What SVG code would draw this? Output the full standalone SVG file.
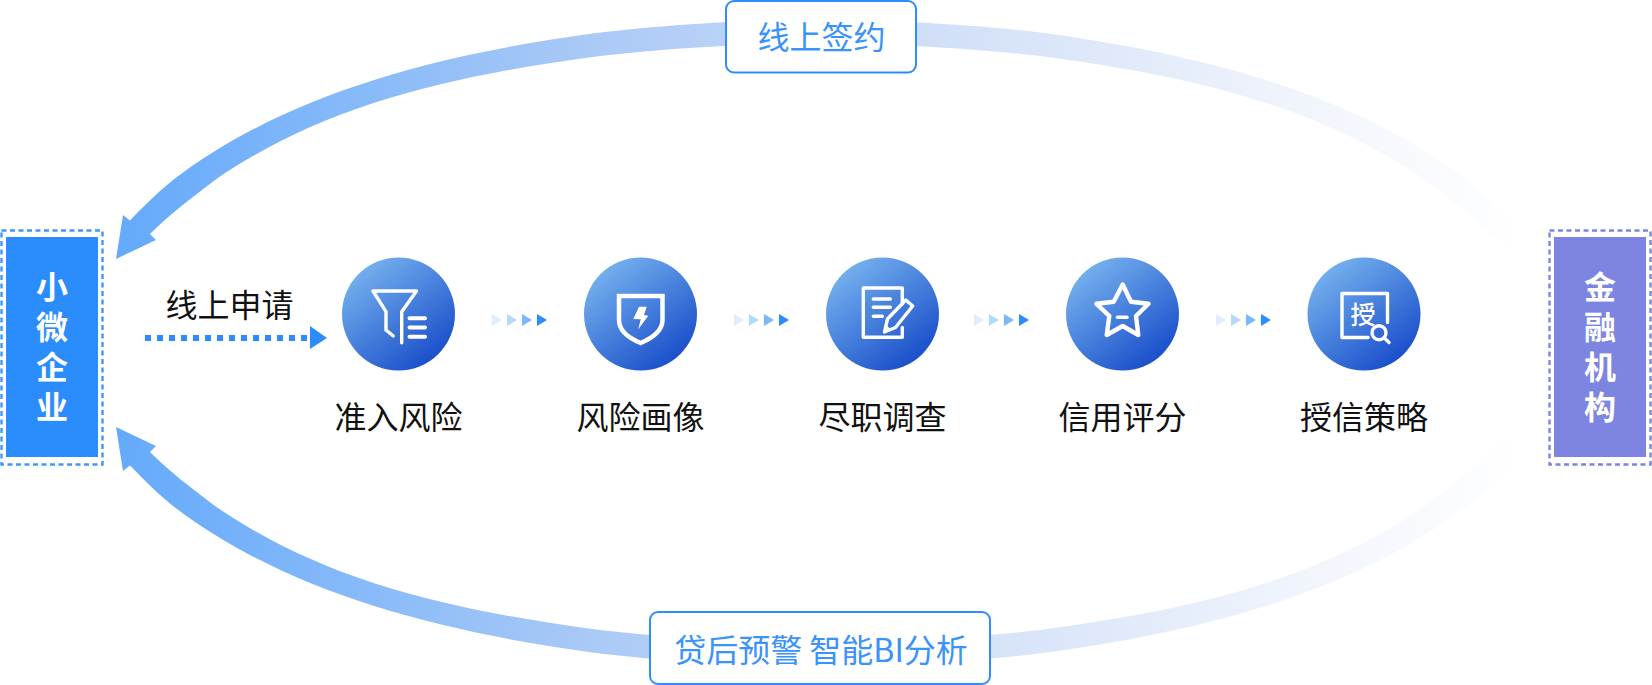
<svg xmlns="http://www.w3.org/2000/svg" width="1652" height="685" viewBox="0 0 1652 685">
<style>
text{font-family:"Noto Sans CJK SC","Noto Sans",sans-serif;font-size:32px}
.lbl{fill:#111;text-anchor:middle}
.blue{fill:#3a92fb;text-anchor:middle}
.side{fill:#fff;font-weight:700;writing-mode:vertical-rl;letter-spacing:8px}
.ic{fill:none;stroke:#fff;stroke-width:3.4;stroke-linecap:round;stroke-linejoin:round}
.box{fill:#fff;stroke:#2f8dfb;stroke-width:2}
.t1{fill:#e0eefe}.t2{fill:#b7d8fd}.t3{fill:#7ab8fc}.t4{fill:#2b8cfb}
</style>
<defs>
<linearGradient id="arc" gradientUnits="userSpaceOnUse" x1="116" y1="0" x2="1520" y2="0">
<stop offset="0" stop-color="#64aafb"/>
<stop offset="0.06" stop-color="#70affa"/>
<stop offset="0.345" stop-color="#abcaf6"/>
<stop offset="0.57" stop-color="#cfdef8"/>
<stop offset="0.84" stop-color="#f0f4fc"/>
<stop offset="1" stop-color="#ffffff"/>
</linearGradient>
<linearGradient id="disc" x1="0.15" y1="0.1" x2="0.8" y2="0.95">
<stop offset="0" stop-color="#75b1ee"/>
<stop offset="1" stop-color="#174cc9"/>
</linearGradient>
<path id="band" d="M116 259L123 215L130 220.4C143 207 158 192 173 180C283 96 430 55 600 32.5A704 250 0 0 1 1040 32.5C1210 55 1357 96 1467 180C1482 192 1497 207 1510 220.4L1524 259L1490 234C1470 214 1450 199 1425 180C1320 108 1200 77 1040 56A678.5 228 0 0 0 600 56C440 77 320 108 215 180C190 199 170 214 150 234L156 240Z"/>
<g id="tri"><path class="t1" d="M0 -6L10 0L0 6Z"/><path class="t2" d="M15 -6L25 0L15 6Z"/><path class="t3" d="M30 -6L40 0L30 6Z"/><path class="t4" d="M45 -6L55 0L45 6Z"/></g>
</defs>
<rect width="1652" height="685" fill="#fff"/>
<g id="connectors">
<use href="#band" fill="url(#arc)"/>
<use href="#band" fill="url(#arc)" transform="matrix(1 0 0 -1 0 686)"/>
<path d="M145 338H308" fill="none" stroke="#2b8cfb" stroke-width="6" stroke-dasharray="6 6"/>
<path d="M310 326L327 338L310 349Z" fill="#2b8cfb"/>
<use href="#tri" x="492" y="320"/>
<use href="#tri" x="734" y="320"/>
<use href="#tri" x="974" y="320"/>
<use href="#tri" x="1216" y="320"/>
</g>
<g id="node-smb">
<rect x="1.5" y="230.5" width="101" height="234" fill="none" stroke="#3f97fb" stroke-width="2.4" stroke-dasharray="5 3.5"/>
<rect x="6" y="237" width="92" height="220" fill="#2b8cfb"/>
<text class="side" x="52" y="271">小微企业</text>
</g>
<g id="node-bank">
<rect x="1549.5" y="230.5" width="101" height="234" fill="none" stroke="#7d85e0" stroke-width="2.4" stroke-dasharray="5 3.5"/>
<rect x="1554" y="237" width="92" height="220" fill="#7d85e0"/>
<text class="side" x="1600" y="271">金融机构</text>
</g>
<g id="label-apply"><text class="lbl" x="229.5" y="317">线上申请</text></g>
<g id="node-sign">
<rect class="box" x="726" y="1" width="190" height="71.5" rx="8"/>
<text class="blue" x="821.5" y="49">线上签约</text>
</g>
<g id="node-monitor">
<rect class="box" x="650" y="612" width="340" height="72" rx="8"/>
<text class="blue" x="821" y="662">贷后预警 智能BI分析</text>
</g>
<g id="node-access">
<circle cx="398.5" cy="314" r="56.5" fill="url(#disc)"/>
<path class="ic" d="M386 330V311.7L373 291H416.5L401.7 311.7V342.7M386 330L393.3 336"/>
<path class="ic" style="stroke-width:4" d="M409.5 318.3H425M409.5 327.4H425M409.5 336.7H425"/>
<text class="lbl" x="398.5" y="429">准入风险</text>
</g>
<g id="node-portrait">
<circle cx="640.5" cy="314" r="56.5" fill="url(#disc)"/>
<path class="ic" style="stroke-width:4.5;stroke-linecap:butt;stroke-linejoin:miter" d="M619 296H662.5V320C662.5 332 650 339 640.7 343C631 339 619 332 619 320Z"/>
<path fill="#fff" d="M639 306.7H646.7L644 315L648.3 315.7L638.3 329.3L640.7 319.3L633.3 319Z"/>
<text class="lbl" x="640.5" y="429">风险画像</text>
</g>
<g id="node-survey">
<circle cx="882.5" cy="314" r="56.5" fill="url(#disc)"/>
<path class="ic" d="M902.3 304V288H863.3V337.3H902.3V327.5"/>
<path class="ic" d="M873.3 299H890.3M873.3 307.3H890.3M873.3 316.3H882.3"/>
<path class="ic" d="M905.7 300L912.7 306L895.5 327.5L884.5 332L887.5 319Z"/>
<path fill="#fff" d="M884.5 332L886 325L890.5 329Z"/>
<text class="lbl" x="882.5" y="429">尽职调查</text>
</g>
<g id="node-score">
<circle cx="1122.5" cy="314" r="56.5" fill="url(#disc)"/>
<path class="ic" style="stroke-width:4.4" d="M1122.7 284.5L1131 301.7L1148.5 303.8L1136 316L1138.3 335L1122.7 326L1106.7 335L1109.3 316L1096.5 303.8L1113.7 301.7Z"/>
<path class="ic" style="stroke-width:3.5" d="M1117.5 317.3H1127"/>
<text class="lbl" x="1122.5" y="429">信用评分</text>
</g>
<g id="node-credit">
<circle cx="1364" cy="314" r="56.5" fill="url(#disc)"/>
<path class="ic" d="M1368 337.5H1342V293.5H1387.5V322.5"/>
<text x="1363" y="324" text-anchor="middle" fill="#fff" style="font-size:25px;font-weight:500">授</text>
<circle class="ic" cx="1379" cy="332.7" r="7"/>
<path class="ic" d="M1384.5 338L1389 342.5"/>
<text class="lbl" x="1364" y="429">授信策略</text>
</g>
</svg>
